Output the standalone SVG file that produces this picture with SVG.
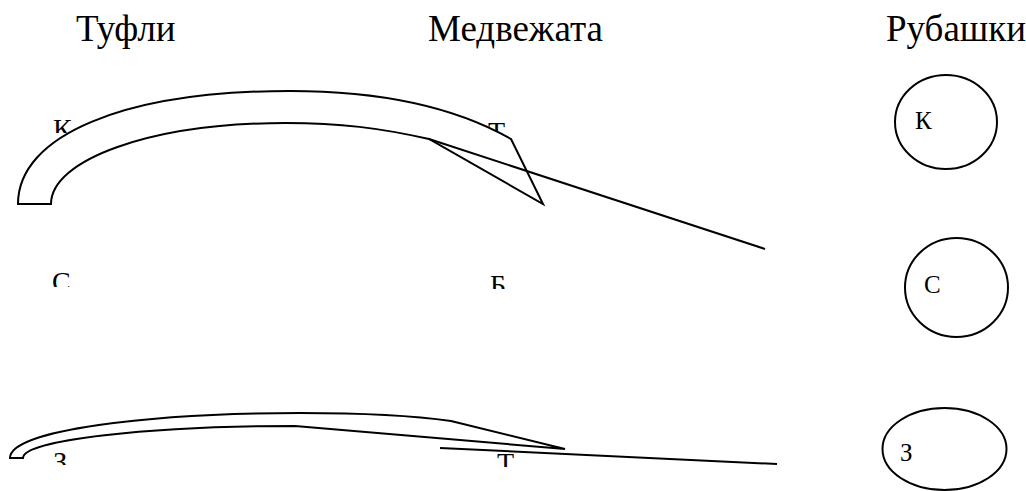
<svg xmlns="http://www.w3.org/2000/svg" width="1026" height="491" viewBox="0 0 1026 491">
<style>
.t{font-family:"Liberation Serif","Times New Roman",serif;fill:#000}
.title{font-size:37px}
.lab{font-size:28px}
.cl{font-size:25px}
.s{fill:#fff;stroke:#000;stroke-width:2;stroke-linejoin:miter}
.ln{fill:none;stroke:#000;stroke-width:2}
</style>
<defs>
<clipPath id="cK"><rect x="40" y="100" width="50" height="33"/></clipPath>
<clipPath id="cT1"><rect x="480" y="100" width="50" height="38"/></clipPath>
<clipPath id="cS"><rect x="40" y="260" width="50" height="27"/></clipPath>
<clipPath id="cB"><rect x="480" y="260" width="50" height="29"/></clipPath>
<clipPath id="cZ"><rect x="40" y="440" width="50" height="25"/></clipPath>
<clipPath id="cT2"><rect x="480" y="440" width="50" height="27"/></clipPath>
</defs>
<rect width="1026" height="491" fill="#fff"/>
<g id="titles">
<text class="t title" x="76" y="41">Туфли</text>
<text class="t title" x="428" y="41">Медвежата</text>
<text class="t title" x="886" y="41">Рубашки</text>
</g>
<g id="labels">
<text class="t lab" x="53" y="138" clip-path="url(#cK)">К</text>
<text class="t lab" x="488" y="141" clip-path="url(#cT1)">Т</text>
<text class="t lab" x="52" y="291" clip-path="url(#cS)">С</text>
<text class="t lab" x="490" y="294" clip-path="url(#cB)">Б</text>
<text class="t lab" x="53" y="471" clip-path="url(#cZ)">З</text>
<text class="t lab" x="497" y="472" clip-path="url(#cT2)">Т</text>
</g>
<g id="shoe-top">
<path class="s" d="M18,204 C18,135 125,91 290,91 C390,91 460,110 511,139 L543,204 L429,139 C380,128 340,123 286,123 C150,123 51,160 51,204 Z"/>
</g>
<g id="shoe-bottom">
<path class="s" d="M10,458 C10,430 150,413 300,413 C380,413 430,418 451,421 L565,449 L295,426 C150,426 23,440 23,458 Z"/>
</g>
<g id="shirt-k">
<ellipse class="s" cx="946" cy="122" rx="51" ry="47"/>
<text class="t cl" x="915" y="129">К</text>
</g>
<g id="shirt-s">
<ellipse class="s" cx="956.5" cy="287.5" rx="51.5" ry="49.5"/>
<text class="t cl" x="924" y="293">С</text>
</g>
<g id="shirt-z">
<ellipse class="s" cx="944.5" cy="449" rx="62" ry="41"/>
<text class="t cl" x="900" y="461">З</text>
</g>
<g id="connectors">
<line class="ln" x1="429" y1="139" x2="765" y2="249"/>
<line class="ln" x1="440" y1="448" x2="777" y2="464"/>
</g>
</svg>
